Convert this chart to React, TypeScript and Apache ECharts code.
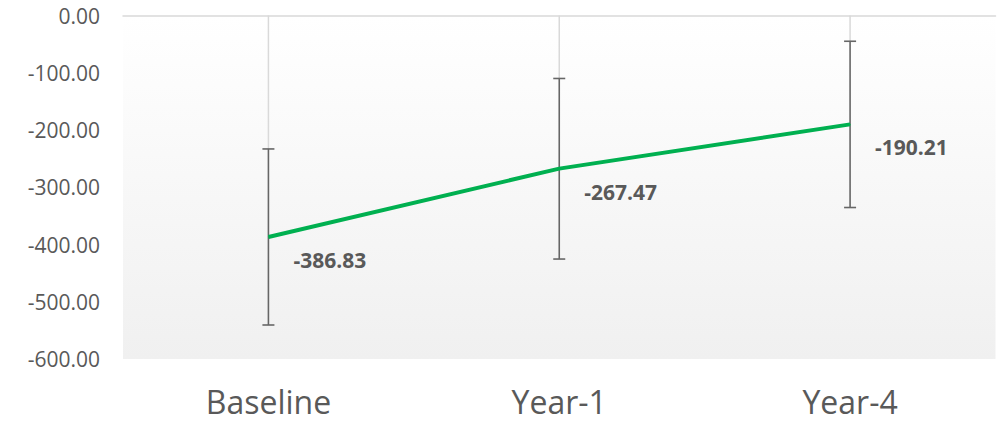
import React, { useEffect, useRef } from "react";
import * as echarts from "echarts";

const categories = ["Baseline", "Year-1", "Year-4"];
const means = [-386.83, -267.47, -190.21];
const lowerBounds = [-540.6, -425.4, -335.4];
const upperBounds = [-233.1, -110.0, -45.0];
const yTicks = { min: -600, max: 0, interval: 100 };

export default function App() {
  const ref = useRef<HTMLDivElement>(null);
  useEffect(() => {
    if (!ref.current) return;
    const chart = echarts.init(ref.current, undefined, { renderer: "svg" });
    const errData = categories.map((_, i) => [i, lowerBounds[i], upperBounds[i]]);
    chart.setOption({
      animation: false,
      grid: {
        left: 123,
        right: 6.5,
        top: 15.5,
        bottom: 68,
        show: true,
        borderWidth: 0,
        backgroundColor: new echarts.graphic.LinearGradient(0, 0, 0, 1, [
          { offset: 0, color: "#ffffff" },
          { offset: 1, color: "#f0f0f0" },
        ]),
      },
      xAxis: [
        {
          type: "category",
          data: categories,
          boundaryGap: true,
          position: "bottom",
          axisLine: { show: false },
          axisTick: { show: false },
          splitLine: { show: false },
          axisLabel: {
            color: "#595959",
            fontSize: 32,
            fontFamily: "Open Sans",
            margin: 26,
          },
        },
        {
          type: "category",
          data: categories,
          position: "top",
          axisLine: { show: true, lineStyle: { color: "#d9d9d9", width: 1.5 } },
          axisTick: { show: false },
          axisLabel: { show: false },
          splitLine: { show: false },
        },
      ],
      yAxis: {
        type: "value",
        min: yTicks.min,
        max: yTicks.max,
        interval: yTicks.interval,
        axisLine: { show: false },
        axisTick: { show: false },
        splitLine: { show: false },
        axisLabel: {
          color: "#595959",
          fontSize: 21,
          fontFamily: "Open Sans",
          margin: 23,
          formatter: (v: number) => v.toFixed(2),
        },
      },
      series: [
        {
          type: "custom",
          xAxisIndex: 0,
          z: 1,
          data: errData,
          renderItem: (params: any, api: any) => {
            const idx = api.value(0);
            const lo = api.coord([idx, api.value(1)]);
            const hi = api.coord([idx, api.value(2)]);
            const top = api.coord([idx, 0]);
            const cap = 6;
            const dark = { stroke: "#666666", lineWidth: 1.6 };
            return {
              type: "group",
              children: [
                {
                  type: "line",
                  shape: { x1: top[0], y1: top[1], x2: hi[0], y2: hi[1] },
                  style: { stroke: "#d9d9d9", lineWidth: 1.5 },
                },
                {
                  type: "line",
                  shape: { x1: lo[0], y1: lo[1], x2: hi[0], y2: hi[1] },
                  style: dark,
                },
                {
                  type: "line",
                  shape: { x1: hi[0] - cap, y1: hi[1], x2: hi[0] + cap, y2: hi[1] },
                  style: dark,
                },
                {
                  type: "line",
                  shape: { x1: lo[0] - cap, y1: lo[1], x2: lo[0] + cap, y2: lo[1] },
                  style: dark,
                },
              ],
            };
          },
        },
        {
          type: "line",
          xAxisIndex: 0,
          z: 3,
          data: means,
          symbol: "circle",
          symbolSize: 1,
          showSymbol: true,
          itemStyle: { color: "#00b050" },
          lineStyle: { color: "#00b050", width: 4 },
          label: {
            show: true,
            position: "inside",
            align: "left",
            verticalAlign: "middle",
            offset: [25, 23],
            color: "#595959",
            fontSize: 21,
            fontWeight: "bold",
            fontFamily: "Open Sans",
            formatter: (p: any) => p.value.toFixed(2),
          },
        },
      ],
    });
    return () => chart.dispose();
  }, []);
  return <div ref={ref} style={{ width: 1002, height: 427, position: "absolute", left: 0, top: 0 }} />;
}
